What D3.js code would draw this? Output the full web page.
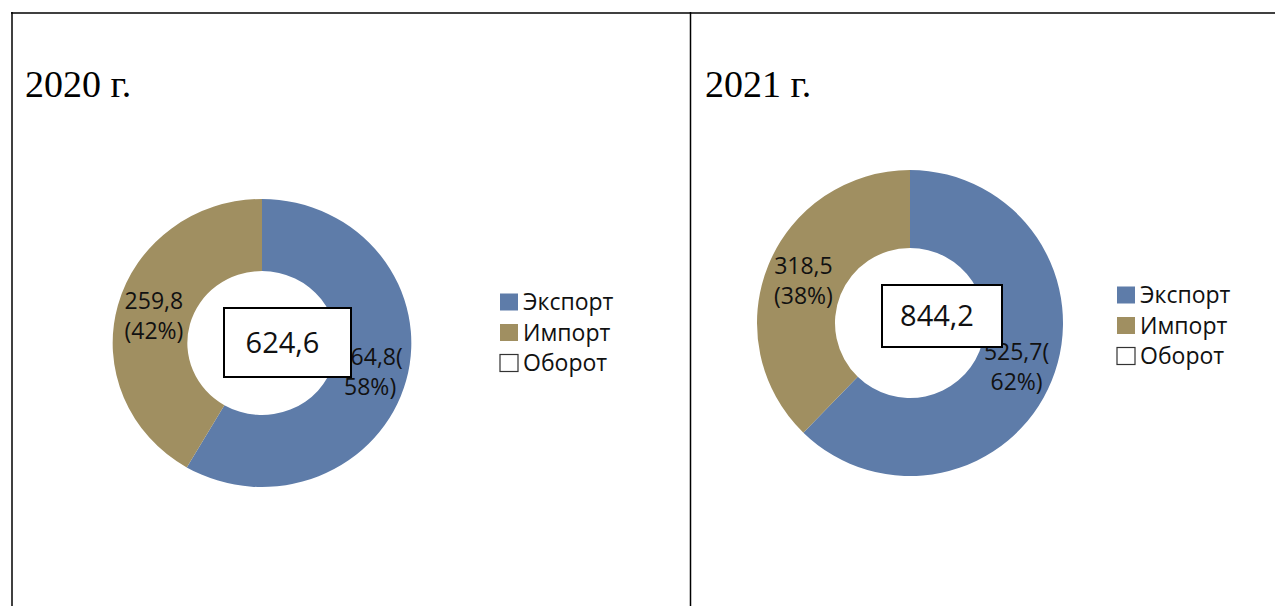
<!DOCTYPE html>
<html>
<head>
<meta charset="utf-8">
<script src="https://cdn.jsdelivr.net/npm/d3@7"></script>
<style>
  html, body { margin: 0; padding: 0; background: #fff; }
  svg { display: block; }
</style>
</head>
<body>
<svg id="chart" width="1275" height="606"></svg>
<script>
// data
const years = ["2020 г.", "2021 г."];
const categories = ["Экспорт", "Импорт"];
const exportVals = [364.8, 525.7];
const importVals = [259.8, 318.5];
const turnover = [624.6, 844.2];
const exportPct = [58, 62];
const importPct = [42, 38];
const legendLabels = ["Экспорт", "Импорт", "Оборот"];

const colors = d3.scaleOrdinal().domain(categories).range(["#5e7ca9", "#a08f61"]);
const fmt = v => d3.format(".1f")(v).replace(".", ",");

// layout of the two table cells
const panels = [
    { cx: 262, cy: 343, rOuter: 144, rInner: 72, sx: 1.037, labelR: 108,
      title: [25, 97], box: [224, 308, 127, 69], legend: [500, 302] },
    { cx: 910, cy: 323, rOuter: 153, rInner: 75, sx: 1, labelR: 115,
      title: [705, 97], box: [882, 285, 120, 62], legend: [1117, 295] }
];

const svg = d3.select("#chart");

// table borders
svg.append("line").attr("x1", 11).attr("x2", 1275).attr("y1", 13).attr("y2", 13)
    .attr("stroke", "#000").attr("stroke-width", 1.5);
svg.append("line").attr("x1", 12).attr("x2", 12).attr("y1", 12).attr("y2", 606)
    .attr("stroke", "#000").attr("stroke-width", 1.5);
svg.append("line").attr("x1", 690.5).attr("x2", 690.5).attr("y1", 12).attr("y2", 606)
    .attr("stroke", "#000").attr("stroke-width", 1.5);

const pie = d3.pie().sort(null).value(d => d.value);

panels.forEach((p, i) => {
    const g = svg.append("g");

    g.append("text")
        .attr("x", p.title[0]).attr("y", p.title[1])
        .attr("font-family", "Liberation Serif, serif")
        .attr("font-size", 38)
        .attr("fill", "#000")
        .text(years[i]);

    const rows = [
        { cat: categories[0], value: exportVals[i], lines: [fmt(exportVals[i]) + "(", exportPct[i] + "%)"] },
        { cat: categories[1], value: importVals[i], lines: [fmt(importVals[i]), "(" + importPct[i] + "%)"] }
    ];
    const arcs = pie(rows);
    const arc = d3.arc().innerRadius(p.rInner).outerRadius(p.rOuter);
    const labelArc = d3.arc().innerRadius(p.labelR).outerRadius(p.labelR);

    g.append("g")
        .attr("transform", `translate(${p.cx},${p.cy}) scale(${p.sx},1)`)
        .selectAll("path")
        .data(arcs)
        .join("path")
        .attr("d", arc)
        .attr("fill", d => colors(d.data.cat));

    const lbl = g.selectAll("text.lbl")
        .data(arcs)
        .join("text")
        .attr("class", "lbl")
        .attr("font-family", "Open Sans, sans-serif")
        .attr("font-size", 23)
        .attr("fill", "#111")
        .attr("text-anchor", "middle")
        .attr("transform", d => {
            const c = labelArc.centroid(d);
            return `translate(${p.cx + c[0] * p.sx},${p.cy + c[1]})`;
        });
    lbl.selectAll("tspan")
        .data(d => d.data.lines.map((t, k) => ({ t, k })))
        .join("tspan")
        .attr("x", 0)
        .attr("y", d => (d.k - 0.5) * 30 + 9)
        .text(d => d.t);

    // turnover box
    g.append("rect")
        .attr("x", p.box[0]).attr("y", p.box[1])
        .attr("width", p.box[2]).attr("height", p.box[3])
        .attr("fill", "#fff").attr("stroke", "#000").attr("stroke-width", 2);
    g.append("text")
        .attr("x", p.box[0] + p.box[2] / 2 - 5)
        .attr("y", p.box[1] + p.box[3] / 2 + 10)
        .attr("text-anchor", "middle")
        .attr("font-family", "Open Sans, sans-serif")
        .attr("font-size", 29)
        .attr("fill", "#111")
        .text(fmt(turnover[i]));

    // legend
    const leg = g.selectAll("g.leg")
        .data(legendLabels)
        .join("g")
        .attr("class", "leg")
        .attr("transform", (d, k) => `translate(${p.legend[0]},${p.legend[1] + k * 30.5})`);
    leg.append("rect")
        .attr("x", 0).attr("y", -8.5)
        .attr("width", 18).attr("height", 17)
        .attr("fill", (d, k) => k < 2 ? colors(categories[k]) : "#fff")
        .attr("stroke", (d, k) => k < 2 ? "none" : "#333")
        .attr("stroke-width", 1.2);
    leg.append("text")
        .attr("x", 23).attr("y", 8)
        .attr("font-family", "Open Sans, sans-serif")
        .attr("font-size", 23)
        .attr("fill", "#111")
        .text(d => d);
});
</script>
</body>
</html>
